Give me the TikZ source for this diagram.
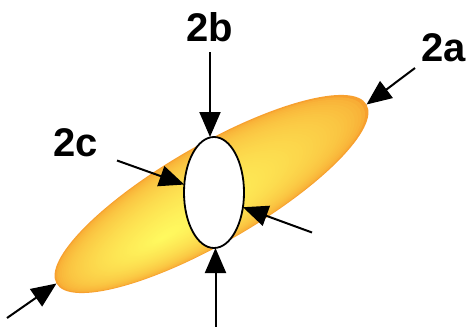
\documentclass[tikz,border=0pt]{standalone}
\usepackage{fontspec}
\setmainfont{Liberation Sans}
\usetikzlibrary{arrows.meta,shapes.geometric}
\definecolor{org}{RGB}{247,160,46}
\definecolor{yel}{RGB}{255,250,95}
\begin{document}
\begin{tikzpicture}[x=1pt,y=-1pt,
  lab/.style={font=\fontsize{40}{48}\selectfont\bfseries, inner sep=0pt, anchor=base},
  arr/.style={line width=2pt, -{Triangle[length=25pt,width=21pt]}}]
\useasboundingbox (0,0) rectangle (467,327);
% shaded outer ellipse (path-gradient look)
\begin{scope}[shift={(211.5,194)}, rotate=30]
  \foreach \i in {0,...,59}{
    \pgfmathsetmacro\tt{\i/60}
    \pgfmathsetmacro\pp{100*(\tt^0.45)}
    \fill[yel!\pp!org] ({-65*\tt},{14*\tt}) ellipse [x radius={179*(1-\tt)}, y radius={49*(1-\tt)}];
  }
\end{scope}
\node (blob) [ellipse, draw=none, minimum width=358pt, minimum height=98pt,
  inner sep=0pt, outer sep=0pt, rotate=30] at (211.5,194) {};
% inner hole
\node (hole) [ellipse, draw, line width=1.8pt, fill=white, minimum width=60pt,
  minimum height=111pt, inner sep=0pt, outer sep=0pt] at (214,192.5) {};
% arrow tails
\coordinate (tb) at (210,52);
\coordinate (bb) at (215.5,327);
\coordinate (tc) at (117,160.5);
\coordinate (tr) at (312,232.5);
\coordinate (ta) at (415,68);
\coordinate (tl) at (7,318);
\draw[arr] (tb) -- ([xshift=-4pt]hole.north);
\draw[arr] (bb) -- ([xshift=1.5pt]hole.south);
\draw[arr] (tc) -- (hole.165);
\draw[arr] (tr) -- (hole.-27);
\draw[arr] (ta) -- (blob.east);
\draw[arr] (tl) -- (blob.west);
% labels
\node[lab] (l2b) at (210,41.7) {2b};
\node[lab] (l2a) at (443.5,61.7) {2a};
\node[lab] (l2c) at (75.5,156.7) {2c};
\end{tikzpicture}
\end{document}
